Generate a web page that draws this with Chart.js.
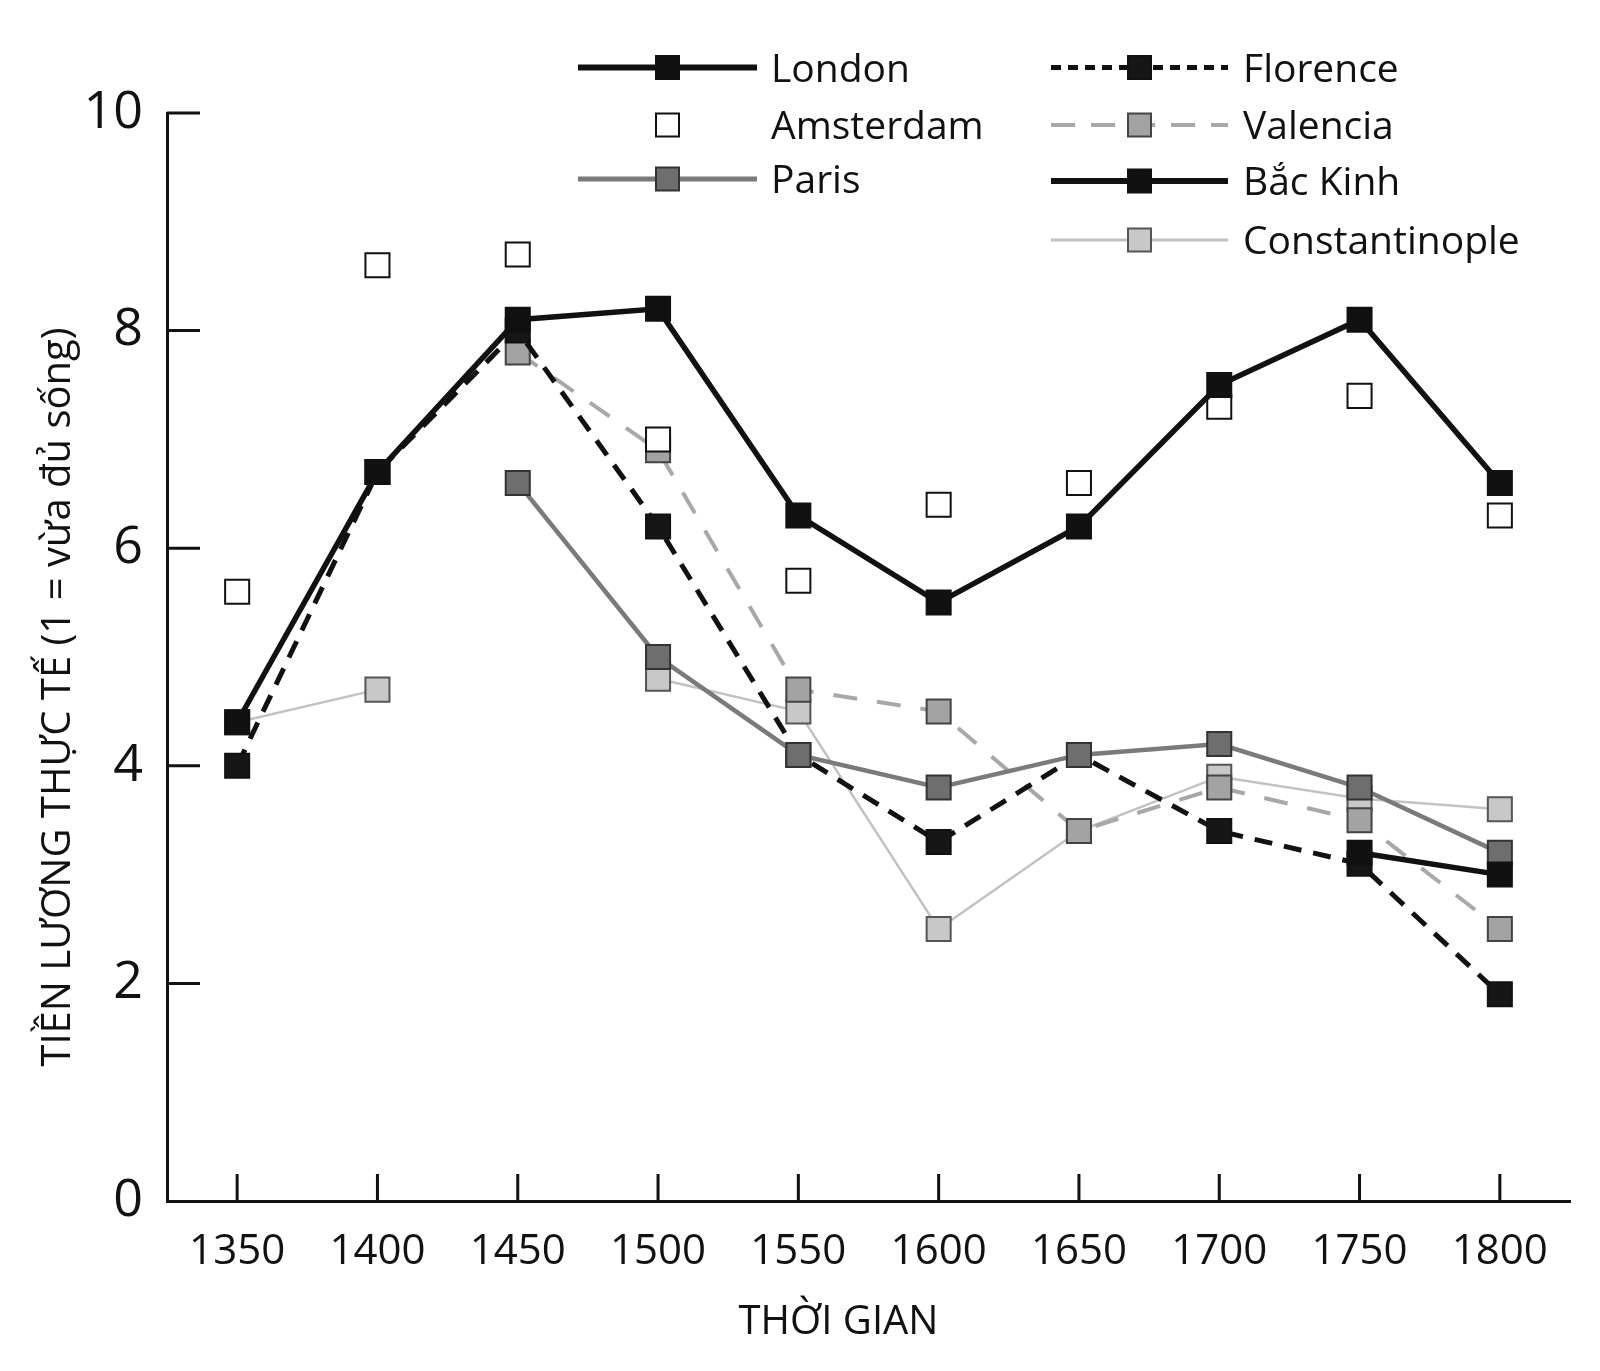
<!DOCTYPE html>
<html>
<head>
<meta charset="utf-8">
<script src="https://cdn.jsdelivr.net/npm/chart.js@4.4.1/dist/chart.umd.min.js"></script>
<style>
html,body{margin:0;padding:0;background:#fff;}
#wrap{position:relative;width:1600px;height:1371px;overflow:hidden;}
#c{position:absolute;left:0;top:0;}
#lgsvg{position:absolute;left:0;top:0;}
.lg{position:absolute;font-family:'Open Sans',sans-serif;font-size:39px;color:#111;line-height:1;white-space:nowrap;}
</style>
</head>
<body>
<div id="wrap">
<canvas id="c" width="1600" height="1371"></canvas>
<svg id="lgsvg" width="1600" height="280" xmlns="http://www.w3.org/2000/svg"></svg>
<div id="legend"></div>
</div>
<script>
// ---- data ----
const years = [1350, 1400, 1450, 1500, 1550, 1600, 1650, 1700, 1750, 1800];
const london = [4.4, 6.7, 8.1, 8.2, 6.3, 5.5, 6.2, 7.5, 8.1, 6.6];
const amsterdam = [5.6, 8.6, 8.7, 7.0, 5.7, 6.4, 6.6, 7.3, 7.4, 6.3];
const paris = [null, null, 6.6, 5.0, 4.1, 3.8, 4.1, 4.2, 3.8, 3.2];
const florence = [4.0, 6.7, 8.0, 6.2, 4.1, 3.3, 4.1, 3.4, 3.1, 1.9];
const valencia = [null, null, 7.8, 6.9, 4.7, 4.5, 3.4, 3.8, 3.5, 2.5];
const bacKinh = [null, null, null, null, null, null, null, null, 3.2, 3.0];
const constantinople = [4.4, 4.7, null, 4.8, 4.5, 2.5, 3.4, 3.9, 3.7, 3.6];
const yTicks = [0, 2, 4, 6, 8, 10];
const seriesNames = ['London', 'Amsterdam', 'Paris', 'Florence', 'Valencia', 'Bắc Kinh', 'Constantinople'];
const seriesValues = [london, amsterdam, paris, florence, valencia, bacKinh, constantinople];
const xTitle = 'THỜI GIAN';
const yTitle = 'TIỀN LƯƠNG THỰC TẾ (1 = vừa đủ sống)';

// ---- styles ----
const styles = [
  {line:'#111', width:5.5, dash:[], fill:'#111', border:'#111', show:true, order:1, lgDash:[], lgWidth:6},
  {line:'#111', width:0, dash:[], fill:'#fff', border:'#111', show:false, order:3, lgDash:null, lgWidth:0},
  {line:'#7a7a7a', width:4.5, dash:[], fill:'#6e6e6e', border:'#333', show:true, order:4, lgDash:[], lgWidth:5},
  {line:'#111', width:5, dash:[18,12], fill:'#161616', border:'#111', show:true, order:5, lgDash:[10,7], lgWidth:5},
  {line:'#a8a8a8', width:4, dash:[24,20], fill:'#a3a3a3', border:'#444', show:true, order:6, lgDash:[24,16], lgWidth:4},
  {line:'#111', width:5.5, dash:[], fill:'#111', border:'#111', show:true, order:2, lgDash:[], lgWidth:6},
  {line:'#c2c2c2', width:2.5, dash:[], fill:'#c8c8c8', border:'#555', show:true, order:7, lgDash:[], lgWidth:3}
];
const legendLayout = [
  {x0:578, x1:757, tx:771, y:67.5},
  {x0:578, x1:757, tx:771, y:125},
  {x0:578, x1:757, tx:771, y:179},
  {x0:1051, x1:1228, tx:1243, y:67.5},
  {x0:1051, x1:1228, tx:1243, y:125},
  {x0:1051, x1:1228, tx:1243, y:181},
  {x0:1051, x1:1228, tx:1243, y:240}
];

const datasets = seriesNames.map((name, i) => {
  const s = styles[i];
  return {
    label: name,
    data: years.map((yr, k) => ({x: yr, y: seriesValues[i][k]})),
    showLine: s.show,
    borderColor: s.line,
    borderWidth: s.width,
    borderDash: s.dash,
    pointStyle: 'rect',
    pointRadius: 17,
    pointHoverRadius: 17,
    pointBackgroundColor: s.fill,
    pointBorderColor: s.border,
    pointBorderWidth: 2,
    spanGaps: false,
    tension: 0,
    order: s.order,
    fill: false
  };
});

const inwardTicks = {
  id: 'inwardTicks',
  afterDraw(chart) {
    const {ctx, scales: {x, y}, chartArea} = chart;
    ctx.save();
    ctx.strokeStyle = '#111';
    ctx.lineWidth = 3;
    ctx.beginPath();
    x.ticks.forEach(t => {
      const px = x.getPixelForValue(t.value);
      ctx.moveTo(px, chartArea.bottom);
      ctx.lineTo(px, chartArea.bottom - 27);
    });
    y.ticks.forEach(t => {
      if (t.value === 0) return;
      const py = y.getPixelForValue(t.value);
      ctx.moveTo(chartArea.left, py);
      ctx.lineTo(chartArea.left + 33, py);
    });
    ctx.stroke();
    ctx.restore();
  }
};

Chart.defaults.font.family = "'Open Sans', sans-serif";
Chart.defaults.color = '#111';

new Chart(document.getElementById('c'), {
  type: 'line',
  data: {datasets},
  options: {
    responsive: false,
    animation: false,
    devicePixelRatio: 1,
    layout: {padding: {top: 113, right: 30, bottom: 0, left: 0}},
    plugins: {legend: {display: false}, tooltip: {enabled: false}},
    scales: {
      x: {
        type: 'linear',
        min: 1325,
        max: 1825,
        afterBuildTicks: s => { s.ticks = years.map(v => ({value: v})); },
        afterFit: s => { s.height = 170; },
        grid: {display: false, drawTicks: false},
        border: {display: true, color: '#111', width: 3},
        ticks: {font: {size: 42}, color: '#111', padding: 26, autoSkip: false, maxRotation: 0, callback: v => String(v)},
        title: {display: true, text: xTitle + '\u2003\u2002', font: {size: 40}, color: '#111', padding: {top: 0, bottom: 24}}
      },
      y: {
        type: 'linear',
        min: 0,
        max: 10,
        afterBuildTicks: s => { s.ticks = yTicks.map(v => ({value: v})); },
        afterFit: s => { s.width = 167; },
        grid: {display: false, drawTicks: false},
        border: {display: true, color: '#111', width: 3},
        ticks: {font: {size: 52}, color: '#111', padding: 24, callback: v => String(v)},
        title: {display: true, text: yTitle + '\u2003\u2003', font: {size: 40}, color: '#111', padding: {top: 35, bottom: 0}}
      }
    }
  },
  plugins: [inwardTicks]
});

// ---- legend (HTML/SVG, real text) ----
const svg = document.getElementById('lgsvg');
const NS = 'http://www.w3.org/2000/svg';
const legendDiv = document.getElementById('legend');
seriesNames.forEach((name, i) => {
  const s = styles[i], L = legendLayout[i];
  if (s.lgDash !== null) {
    const ln = document.createElementNS(NS, 'line');
    ln.setAttribute('x1', L.x0); ln.setAttribute('x2', L.x1);
    ln.setAttribute('y1', L.y); ln.setAttribute('y2', L.y);
    ln.setAttribute('stroke', s.line);
    ln.setAttribute('stroke-width', s.lgWidth);
    if (s.lgDash.length) ln.setAttribute('stroke-dasharray', s.lgDash.join(' '));
    svg.appendChild(ln);
  }
  const cx = (L.x0 + L.x1) / 2;
  const r = document.createElementNS(NS, 'rect');
  r.setAttribute('x', cx - 11.5); r.setAttribute('y', L.y - 11.5);
  r.setAttribute('width', 23); r.setAttribute('height', 23);
  r.setAttribute('fill', s.fill); r.setAttribute('stroke', s.border); r.setAttribute('stroke-width', 2);
  svg.appendChild(r);
  const d = document.createElement('div');
  d.className = 'lg';
  d.textContent = name;
  d.style.left = L.tx + 'px';
  d.style.top = (L.y - 20.7) + 'px';
  legendDiv.appendChild(d);
});
</script>
</body>
</html>
